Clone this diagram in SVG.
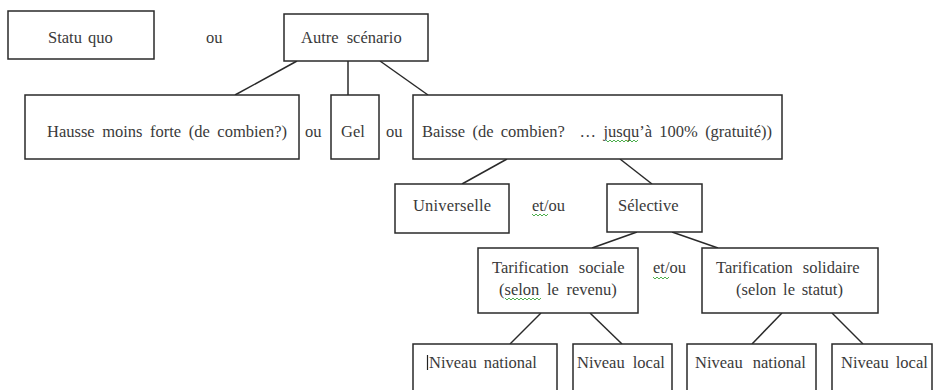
<svg xmlns="http://www.w3.org/2000/svg" width="934" height="390" viewBox="0 0 934 390">
<style>
.box{fill:#fff;stroke:#2a2a2a;stroke-width:1.5}
.t{font-size:16.5px;fill:#3a3a3a}
.c{stroke:#2a2a2a;stroke-width:1.5;fill:none}
.sq{stroke:#3aa63a;stroke-width:0.9;fill:none}
</style>
<rect width="934" height="390" fill="#fff"/>
<g id="connectors">
<line class="c" x1="297" y1="61" x2="235" y2="95"/>
<line class="c" x1="348" y1="61" x2="348" y2="95"/>
<line class="c" x1="380" y1="61" x2="428" y2="95"/>
<line class="c" x1="507" y1="159" x2="462" y2="184"/>
<line class="c" x1="620" y1="159" x2="652" y2="184"/>
<line class="c" x1="637" y1="232" x2="592" y2="248"/>
<line class="c" x1="672" y1="232" x2="718" y2="248"/>
<line class="c" x1="541" y1="313" x2="510" y2="344"/>
<line class="c" x1="590" y1="313" x2="622" y2="344"/>
<line class="c" x1="782" y1="313" x2="752" y2="344"/>
<line class="c" x1="832" y1="313" x2="863" y2="344"/>
</g>
<g id="nodes" font-family="Liberation Serif, DejaVu Serif, serif">
<g id="statu-quo"><rect class="box" x="8" y="11" width="146" height="48"/><text class="t" x="48" y="43" word-spacing="2">Statu quo</text></g>
<g id="ou1"><text class="t" x="206" y="43">ou</text></g>
<g id="autre"><rect class="box" x="284" y="14" width="144" height="47"/><text class="t" x="301" y="43" word-spacing="4">Autre scénario</text></g>
<g id="hausse"><rect class="box" x="25" y="95" width="274" height="64"/><text class="t" x="47" y="137" word-spacing="3.4">Hausse moins forte (de combien?)</text></g>
<g id="ou2"><text class="t" x="305" y="137">ou</text></g>
<g id="gel"><rect class="box" x="331" y="95" width="48" height="64"/><text class="t" x="341" y="137">Gel</text></g>
<g id="ou3"><text class="t" x="386" y="137">ou</text></g>
<g id="baisse"><rect class="box" x="413" y="95" width="369" height="64"/><text class="t" x="422" y="137" word-spacing="3.2" xml:space="preserve">Baisse (de combien?  … jusqu’à 100% (gratuité))</text>
<path class="sq" d="M606 140 l2 2 l2 -2 l2 2 l2 -2 l2 2 l2 -2 l2 2 l2 -2 l2 2 l2 -2 l2 2 l2 -2 l2 2 l2 -2 l2 2 l2 -2"/></g>
<g id="universelle"><rect class="box" x="395" y="184" width="114" height="49"/><text class="t" x="413" y="211" letter-spacing="0.2">Universelle</text></g>
<g id="etou1"><text class="t" x="532" y="211">et/ou</text>
<path class="sq" d="M532 214 l2 2 l2 -2 l2 2 l2 -2 l2 2 l2 -2 l2 2 l2 -2"/></g>
<g id="selective"><rect class="box" x="607" y="184" width="95" height="48"/><text class="t" x="618" y="211">Sélective</text></g>
<g id="sociale"><rect class="box" x="478" y="248" width="160" height="65"/><text class="t" x="492" y="273" word-spacing="6">Tarification sociale</text><text class="t" x="499" y="295" word-spacing="3.5">(selon le revenu)</text>
<path class="sq" d="M505 298 l2 2 l2 -2 l2 2 l2 -2 l2 2 l2 -2 l2 2 l2 -2 l2 2 l2 -2 l2 2 l2 -2 l2 2 l2 -2 l2 2 l2 -2 l2 2 l2 -2"/></g>
<g id="etou2"><text class="t" x="653" y="273">et/ou</text>
<path class="sq" d="M653 277 l2 2 l2 -2 l2 2 l2 -2 l2 2 l2 -2 l2 2 l2 -2"/></g>
<g id="solidaire"><rect class="box" x="702" y="248" width="176" height="65"/><text class="t" x="716" y="273" word-spacing="6">Tarification solidaire</text><text class="t" x="736" y="295" word-spacing="2.6">(selon le statut)</text></g>
<g id="national1"><rect class="box" x="413" y="344" width="144" height="60"/><line x1="427.5" y1="355" x2="427.5" y2="370" stroke="#222" stroke-width="1.2"/><text class="t" x="429" y="368" word-spacing="3">Niveau national</text></g>
<g id="local1"><rect class="box" x="573" y="344" width="99" height="60"/><text class="t" x="577" y="368" word-spacing="4">Niveau local</text></g>
<g id="national2"><rect class="box" x="687" y="344" width="129" height="60"/><text class="t" x="695" y="368" word-spacing="6">Niveau national</text></g>
<g id="local2"><rect class="box" x="832" y="344" width="100" height="60"/><text class="t" x="841" y="368" word-spacing="3">Niveau local</text></g>
</g>
</svg>
